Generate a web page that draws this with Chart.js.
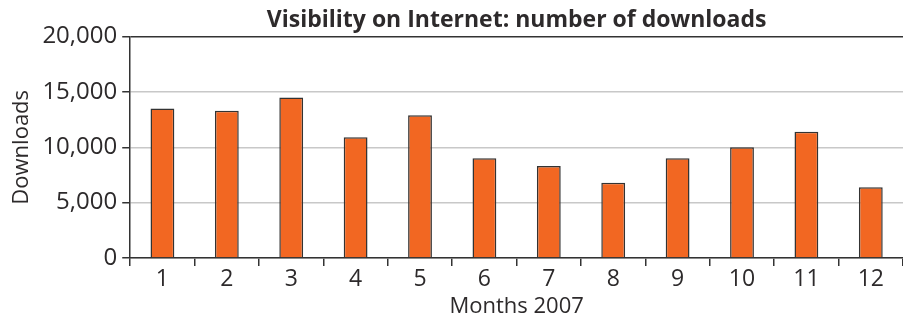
<!DOCTYPE html>
<html>
<head>
<meta charset="utf-8">
<script src="https://cdn.jsdelivr.net/npm/chart.js@4"></script>
<style>
  html, body { margin: 0; padding: 0; background: #fff; }
  #wrap { width: 903px; height: 320px; }
</style>
</head>
<body>
<div id="wrap"><canvas id="myChart" width="903" height="320"></canvas></div>
<script>
var months = ['1', '2', '3', '4', '5', '6', '7', '8', '9', '10', '11', '12'];
var downloads = [13500, 13300, 14500, 10900, 12900, 9000, 8300, 6800, 9000, 10000, 11400, 6400];
var yTicks = [0, 5000, 10000, 15000, 20000];

var textColor = '#2d2a2b';
var fontFamily = "'Open Sans', 'Noto Sans', sans-serif";

var ctx = document.getElementById('myChart').getContext('2d');
var myChart = new Chart(ctx, {
  type: 'bar',
  data: {
    labels: months,
    datasets: [{
      data: downloads,
      backgroundColor: '#f26722',
      borderColor: '#333333',
      borderWidth: 1.5,
      barPercentage: 0.37,
      categoryPercentage: 1
    }]
  },
  options: {
    responsive: false,
    animation: false,
    layout: { padding: { left: 9, right: 0, top: 7, bottom: 0 } },
    plugins: {
      legend: { display: false },
      tooltip: { enabled: false },
      title: {
        display: true,
        fullSize: false,
        text: 'Visibility on Internet: number of downloads',
        color: textColor,
        font: { family: fontFamily, size: 23, weight: 'bold' },
        padding: { top: 0, bottom: 2 }
      }
    },
    scales: {
      x: {
        offset: true,
        grid: {
          offset: true,
          drawOnChartArea: false,
          drawTicks: true,
          tickLength: 8,
          color: '#333333',
          lineWidth: 1.5
        },
        border: { color: '#333333', width: 1.5 },
        ticks: {
          color: textColor,
          font: { family: fontFamily, size: 23 },
          padding: 0
        },
        title: {
          display: true,
          text: 'Months 2007',
          color: textColor,
          font: { family: fontFamily, size: 22 },
          padding: { top: 0, bottom: 0 }
        }
      },
      y: {
        min: 0,
        max: 20000,
        afterBuildTicks: function (axis) {
          axis.ticks = yTicks.map(function (v) { return { value: v }; });
        },
        grid: {
          color: function (c) {
            return c.tick && c.tick.value === 20000 ? '#333333' : '#c8c8c8';
          },
          lineWidth: 1.5,
          tickColor: '#333333',
          tickLength: 8
        },
        border: { color: '#333333', width: 1.5 },
        ticks: {
          color: textColor,
          font: { family: fontFamily, size: 24 },
          padding: 5,
          callback: function (v) { return v.toLocaleString('en-US'); }
        },
        title: {
          display: true,
          text: 'Downloads',
          color: textColor,
          font: { family: fontFamily, size: 22 },
          padding: { top: 0, bottom: 2 }
        }
      }
    }
  }
});
</script>
</body>
</html>
